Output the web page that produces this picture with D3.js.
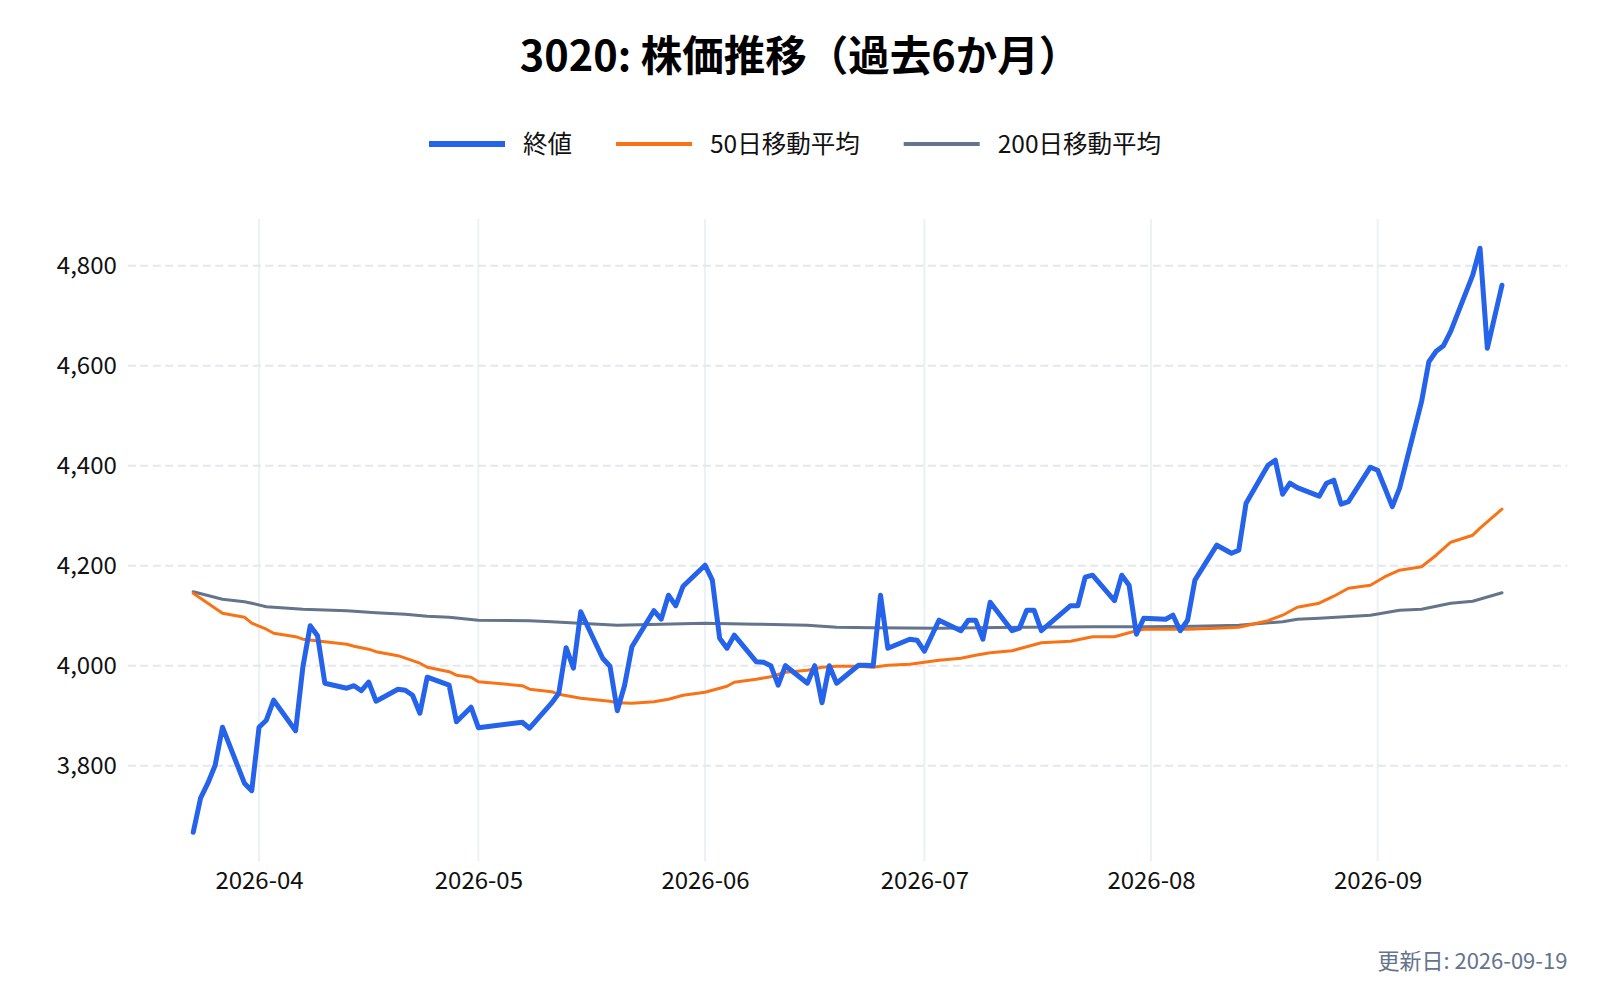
<!DOCTYPE html>
<html>
<head>
<meta charset="utf-8">
<script src="https://cdn.jsdelivr.net/npm/d3@7"></script>
<style>
  html, body { margin: 0; padding: 0; background: #fff; }
  svg { display: block; font-family: "Noto Sans CJK JP", "Noto Sans", sans-serif; }
</style>
</head>
<body>
<div id="chart"></div>
<script>
// 終値 (trading days, Japanese holidays skipped)
const closeDates = [
  "2026-03-23","2026-03-24","2026-03-25","2026-03-26","2026-03-27",
  "2026-03-30","2026-03-31","2026-04-01","2026-04-02","2026-04-03",
  "2026-04-06","2026-04-07","2026-04-08","2026-04-09","2026-04-10",
  "2026-04-13","2026-04-14","2026-04-15","2026-04-16","2026-04-17",
  "2026-04-20","2026-04-21","2026-04-22","2026-04-23","2026-04-24",
  "2026-04-27","2026-04-28","2026-04-30","2026-05-01",
  "2026-05-07","2026-05-08",
  "2026-05-11","2026-05-12","2026-05-13","2026-05-14","2026-05-15",
  "2026-05-18","2026-05-19","2026-05-20","2026-05-21","2026-05-22",
  "2026-05-25","2026-05-26","2026-05-27","2026-05-28","2026-05-29",
  "2026-06-01","2026-06-02","2026-06-03","2026-06-04","2026-06-05",
  "2026-06-08","2026-06-09","2026-06-10","2026-06-11","2026-06-12",
  "2026-06-15","2026-06-16","2026-06-17","2026-06-18","2026-06-19",
  "2026-06-22","2026-06-23","2026-06-24","2026-06-25","2026-06-26",
  "2026-06-29","2026-06-30","2026-07-01","2026-07-02","2026-07-03",
  "2026-07-06","2026-07-07","2026-07-08","2026-07-09","2026-07-10",
  "2026-07-13","2026-07-14","2026-07-15","2026-07-16","2026-07-17",
  "2026-07-21","2026-07-22","2026-07-23","2026-07-24",
  "2026-07-27","2026-07-28","2026-07-29","2026-07-30","2026-07-31",
  "2026-08-03","2026-08-04","2026-08-05","2026-08-06","2026-08-07",
  "2026-08-10","2026-08-12","2026-08-13","2026-08-14",
  "2026-08-17","2026-08-18","2026-08-19","2026-08-20","2026-08-21",
  "2026-08-24","2026-08-25","2026-08-26","2026-08-27","2026-08-28",
  "2026-08-31","2026-09-01","2026-09-02","2026-09-03","2026-09-04",
  "2026-09-07","2026-09-08","2026-09-09","2026-09-10","2026-09-11",
  "2026-09-14","2026-09-15","2026-09-16","2026-09-17","2026-09-18"
];
const closeValues = [
  3667, 3735, 3765, 3801, 3877,
  3765, 3750, 3877, 3891, 3931,
  3870, 3998, 4080, 4060, 3965,
  3955, 3960, 3950, 3967, 3929,
  3953, 3951, 3941, 3905, 3977,
  3961, 3888, 3917, 3876,
  3887, 3875,
  3925, 3945, 4036, 3995, 4108,
  4015, 3999, 3910, 3961, 4038,
  4110, 4093, 4141, 4120, 4159,
  4201, 4171, 4055, 4035, 4061,
  4008, 4007, 4000, 3961, 4000,
  3965, 4000, 3926, 4000, 3965,
  4001, 4001, 4000, 4141, 4035,
  4053, 4051, 4029, 4060, 4091,
  4070, 4091, 4091, 4053, 4127,
  4070, 4075, 4111, 4111, 4070,
  4120, 4120, 4177, 4181,
  4130, 4181, 4161, 4063, 4095,
  4093, 4101, 4070, 4091, 4171,
  4241, 4225, 4231, 4325,
  4401, 4411, 4343, 4365, 4356,
  4339, 4365, 4371, 4323, 4328,
  4397, 4391, 4355, 4318, 4355,
  4528, 4608, 4629, 4640, 4669,
  4781, 4835, 4635, 4698, 4761
];

// 50日移動平均 (read at visible bends)
const ma50Dates = [
  "2026-03-23","2026-03-26","2026-03-27","2026-03-30","2026-03-31","2026-04-02","2026-04-03",
  "2026-04-06","2026-04-07","2026-04-10","2026-04-13","2026-04-14","2026-04-16","2026-04-17",
  "2026-04-20","2026-04-21","2026-04-23","2026-04-24","2026-04-27","2026-04-28","2026-04-30",
  "2026-05-01","2026-05-07","2026-05-08","2026-05-11","2026-05-12","2026-05-15","2026-05-19",
  "2026-05-20","2026-05-22","2026-05-25","2026-05-27","2026-05-29","2026-06-01","2026-06-03",
  "2026-06-04","2026-06-05","2026-06-08","2026-06-10","2026-06-12","2026-06-15","2026-06-17",
  "2026-06-19","2026-06-22","2026-06-24","2026-06-26","2026-06-29","2026-07-01","2026-07-03",
  "2026-07-06","2026-07-08","2026-07-10","2026-07-13","2026-07-15","2026-07-17","2026-07-21",
  "2026-07-24","2026-07-27","2026-07-30","2026-07-31","2026-08-03","2026-08-06","2026-08-10",
  "2026-08-13","2026-08-17","2026-08-19","2026-08-21","2026-08-24","2026-08-26","2026-08-28",
  "2026-08-31","2026-09-02","2026-09-04","2026-09-07","2026-09-09","2026-09-11","2026-09-14",
  "2026-09-15","2026-09-18"
];
const ma50Values = [
  4145, 4115, 4105, 4097, 4085, 4073, 4065,
  4058, 4053, 4048, 4043, 4039, 4033, 4028,
  4020, 4015, 4005, 3997, 3988, 3981, 3977,
  3968, 3960, 3953, 3948, 3943, 3935, 3929,
  3926, 3925, 3928, 3933, 3941, 3947, 3955,
  3959, 3967, 3973, 3978, 3987, 3991, 3997,
  3999, 3999, 3997, 4001, 4003, 4007, 4011,
  4015, 4021, 4026, 4030, 4038, 4046, 4049,
  4058, 4058, 4070, 4073, 4073, 4073, 4075,
  4077, 4090, 4101, 4117, 4125, 4139, 4155,
  4161, 4178, 4191, 4198, 4221, 4247, 4261,
  4275, 4313
];

// 200日移動平均
const ma200Dates = [
  "2026-03-23","2026-03-27","2026-03-30","2026-03-31","2026-04-02","2026-04-07","2026-04-13",
  "2026-04-17","2026-04-21","2026-04-24","2026-04-27","2026-05-01","2026-05-08","2026-05-11",
  "2026-05-20","2026-06-01","2026-06-08","2026-06-15","2026-06-19","2026-06-24","2026-07-03",
  "2026-07-15","2026-07-24","2026-07-31","2026-08-07","2026-08-13","2026-08-19","2026-08-21",
  "2026-08-24","2026-08-31","2026-09-04","2026-09-07","2026-09-11","2026-09-14","2026-09-18"
];
const ma200Values = [
  4148, 4133, 4128, 4125, 4118, 4113, 4110,
  4106, 4103, 4099, 4097, 4091, 4090, 4088,
  4081, 4085, 4083, 4081, 4077, 4076, 4075,
  4077, 4078, 4078, 4079, 4081, 4088, 4093,
  4095, 4101, 4111, 4113, 4125, 4129, 4146
];

const yTicks = [3800, 4000, 4200, 4400, 4600, 4800];
const titleText = "3020: 株価推移（過去6か月）";
const footerText = "更新日: 2026-09-19";

const seriesNames = ["終値", "50日移動平均", "200日移動平均"];
const seriesColours = ["#2563eb", "#f97316", "#64748b"];
const seriesWidths = [5, 3, 3];

const parseDate = d3.timeParse("%Y-%m-%d");
const toPoints = (dates, values) => dates.map((d, i) => ({ date: parseDate(d), value: values[i] }));

const series = [
  toPoints(closeDates, closeValues),
  toPoints(ma50Dates, ma50Values),
  toPoints(ma200Dates, ma200Values)
];

const W = 1600, H = 1000;
const margin = { top: 219, right: 32.6, bottom: 138.6, left: 127.8 },
    width = W - margin.left - margin.right,
    height = H - margin.top - margin.bottom;

const svgContainer = d3.select("#chart").append("svg")
    .attr("width", W)
    .attr("height", H);

// title
svgContainer.append("text")
    .attr("x", 800)
    .attr("y", 71)
    .attr("text-anchor", "middle")
    .style("font-size", "41.5px")
    .style("font-weight", "700")
    .style("fill", "#000")
    .text(titleText);

const svg = svgContainer.append("g")
    .attr("transform", `translate(${margin.left},${margin.top})`);

// 5% padding on both axes
const allPoints = series.flat();
const [tMin, tMax] = d3.extent(allPoints, d => d.date);
const tPad = (tMax - tMin) * 0.05;
const [vMin, vMax] = d3.extent(allPoints, d => d.value);
const vPad = (vMax - vMin) * 0.05;

const x = d3.scaleTime()
    .domain([new Date(+tMin - tPad), new Date(+tMax + tPad)])
    .range([0, width]);

const y = d3.scaleLinear()
    .domain([vMin - vPad, vMax + vPad])
    .range([height, 0]);

const monthTicks = d3.timeMonth.range(d3.timeMonth.ceil(x.domain()[0]), x.domain()[1]);

// vertical grid
svg.append("g")
    .selectAll("line")
    .data(monthTicks)
    .join("line")
    .attr("x1", d => x(d))
    .attr("x2", d => x(d))
    .attr("y1", 0)
    .attr("y2", height)
    .attr("stroke", "#edf1f6")
    .attr("stroke-width", 2);

// horizontal dashed grid
svg.append("g")
    .selectAll("line")
    .data(yTicks)
    .join("line")
    .attr("x1", 0)
    .attr("x2", width)
    .attr("y1", d => y(d))
    .attr("y2", d => y(d))
    .attr("stroke", "#e5e7eb")
    .attr("stroke-width", 2)
    .attr("stroke-dasharray", "8,4.5");

const xAxisGroup = svg.append("g")
    .attr("transform", `translate(0,${height})`)
    .call(d3.axisBottom(x).tickValues(monthTicks).tickFormat(d3.timeFormat("%Y-%m")).tickSize(0).tickPadding(11));
xAxisGroup.select(".domain").remove();
xAxisGroup.selectAll("text")
    .style("font-size", "24px")
    .style("font-family", "'Noto Sans CJK JP', 'Noto Sans', sans-serif")
    .style("fill", "#111");

const yAxisGroup = svg.append("g")
    .call(d3.axisLeft(y).tickValues(yTicks).tickFormat(d3.format(",")).tickSize(0).tickPadding(11));
yAxisGroup.select(".domain").remove();
yAxisGroup.selectAll("text")
    .style("font-size", "24px")
    .style("font-family", "'Noto Sans CJK JP', 'Noto Sans', sans-serif")
    .style("fill", "#111");

const line = d3.line()
    .x(d => x(d.date))
    .y(d => y(d.value));

// draw MAs first, close on top
[2, 1, 0].forEach(i => {
    svg.append("path")
        .datum(series[i])
        .attr("fill", "none")
        .attr("stroke", seriesColours[i])
        .attr("stroke-width", seriesWidths[i])
        .attr("stroke-linejoin", "round")
        .attr("stroke-linecap", "round")
        .attr("d", line);
});

// legend
const legend = svgContainer.append("g");
let cursor = 0;
seriesNames.forEach((name, i) => {
    const item = legend.append("g").attr("transform", `translate(${cursor},0)`);
    item.append("line")
        .attr("x1", 0).attr("x2", 76)
        .attr("y1", 0).attr("y2", 0)
        .attr("stroke", seriesColours[i])
        .attr("stroke-width", seriesWidths[i] + 1);
    const t = item.append("text")
        .attr("x", 94)
        .attr("y", 8.5)
        .style("font-size", "24.5px")
        .style("fill", "#111")
        .text(name);
    cursor += 94 + t.node().getComputedTextLength() + 44;
});
cursor -= 44;
legend.attr("transform", `translate(${(W - cursor) / 2 - 5},144)`);

// footer
svgContainer.append("text")
    .attr("x", margin.left + width)
    .attr("y", 969)
    .attr("text-anchor", "end")
    .style("font-size", "22px")
    .style("fill", "#64748b")
    .text(footerText);
</script>
</body>
</html>
